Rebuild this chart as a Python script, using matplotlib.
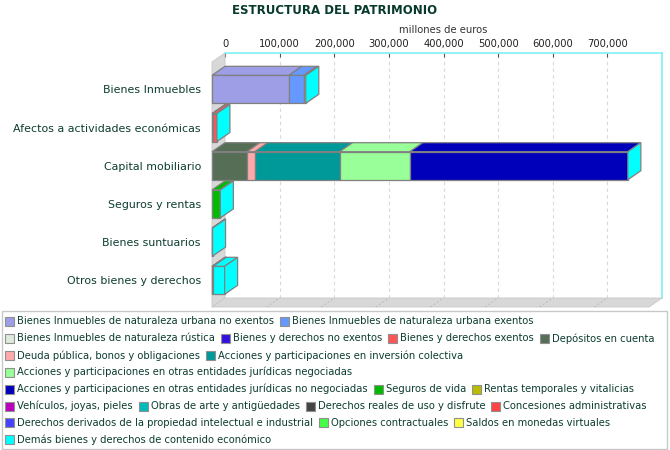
import matplotlib
matplotlib.use("Agg")
import matplotlib.pyplot as plt
from matplotlib.patches import Polygon, Rectangle
from matplotlib.ticker import FuncFormatter

# ---- data (millones de euros) ----
categories = ["Bienes Inmuebles", "Afectos a actividades económicas",
              "Capital mobiliario", "Seguros y rentas",
              "Bienes suntuarios", "Otros bienes y derechos"]

series_names = [
    "Bienes Inmuebles de naturaleza urbana no exentos",
    "Bienes Inmuebles de naturaleza urbana exentos",
    "Bienes Inmuebles de naturaleza rústica",
    "Bienes y derechos no exentos",
    "Bienes y derechos exentos",
    "Depósitos en cuenta",
    "Deuda pública, bonos y obligaciones",
    "Acciones y participaciones en inversión colectiva",
    "Acciones y participaciones en otras entidades jurídicas negociadas",
    "Acciones y participaciones en otras entidades jurídicas no negociadas",
    "Seguros de vida",
    "Rentas temporales y vitalicias",
    "Vehículos, joyas, pieles",
    "Obras de arte y antigüedades",
    "Derechos reales de uso y disfrute",
    "Concesiones administrativas",
    "Derechos derivados de la propiedad intelectual e industrial",
    "Opciones contractuales",
    "Saldos en monedas virtuales",
    "Demás bienes y derechos de contenido económico",
]

series_colors = ["#9e9ee6", "#6699ff", "#dcebdc", "#3311dd", "#ff5555",
                 "#566e56", "#ffaaaa", "#009999", "#99ff99", "#0000bb",
                 "#00bb00", "#bbbb00", "#bb00bb", "#00bbbb", "#444444",
                 "#ff4444", "#4444ff", "#44ff44", "#ffff44", "#00ffff"]

# value of each series in each category (one row per category)
values = [
    [140800, 27400, 3500, 0, 0, 0, 0, 0, 0, 0, 0, 0, 0, 0, 0, 0, 0, 0, 0, 0],
    [0, 0, 0, 1500, 7500, 0, 0, 0, 0, 0, 0, 0, 0, 0, 0, 0, 0, 0, 0, 0],
    [0, 0, 0, 0, 0, 64000, 14600, 155000, 128700, 399000, 0, 0, 0, 0, 0, 0, 0, 0, 0, 0],
    [0, 0, 0, 0, 0, 0, 0, 0, 0, 0, 14500, 800, 0, 0, 0, 0, 0, 0, 0, 0],
    [0, 0, 0, 0, 0, 0, 0, 0, 0, 0, 0, 0, 400, 600, 0, 0, 0, 0, 0, 0],
    [0, 0, 0, 0, 0, 0, 0, 0, 0, 0, 0, 0, 0, 0, 900, 500, 200, 300, 200, 21000],
]

x_max = 800000
x_ticks = [0, 100000, 200000, 300000, 400000, 500000, 600000, 700000]

# legend rows as in the original (indices into series_names)
legend_rows = [[0, 1], [2, 3, 4, 5], [6, 7], [8], [9, 10, 11],
               [12, 13, 14, 15], [16, 17, 18], [19]]

TXT = "#0d3d30"
EDGE = "#808080"
W, H = 670, 450
DX, DY = 13, 9  # 3D depth offset in pixels

fig = plt.figure(figsize=(W / 100, H / 100), dpi=100)


def px_box(x0, y0, x1, y1):
    return [x0 / W, 1 - y1 / H, (x1 - x0) / W, (y1 - y0) / H]


front = (212, 62, 649, 307)
ax_back = fig.add_axes(px_box(front[0] + DX, front[1] - DY, front[2] + DX, front[3] - DY))
ax = fig.add_axes(px_box(*front))

# category band: 38.2 px per category, first centre 27.3 px under the front top
band = 38.2
y_top = -27.3 / band
y_bot = y_top + (front[3] - front[1]) / band
for a in (ax, ax_back):
    a.set_xlim(0, x_max)
    a.set_ylim(y_bot, y_top)

ddx = DX * x_max / (front[2] - front[0])
ddy = DY / band

# back plane: grid, top axis
ax_back.set_facecolor("white")
for s in ("left", "bottom"):
    ax_back.spines[s].set_visible(False)
for s in ("top", "right"):
    ax_back.spines[s].set_color("#80f0f0")
    ax_back.spines[s].set_linewidth(1.2)
ax_back.xaxis.tick_top()
ax_back.xaxis.set_label_position("top")
ax_back.set_xticks(x_ticks)
ax_back.xaxis.set_major_formatter(FuncFormatter(lambda v, p: f"{v:,.0f}"))
ax_back.tick_params(axis="x", direction="in", length=3, color="#555555",
                    labelsize=7.2, labelcolor="#222222", pad=3)
ax_back.set_yticks([])
ax_back.set_xlabel("millones de euros", fontsize=7.2, color="#333333", labelpad=4)
for t in x_ticks[1:]:
    ax_back.axvline(t, color="#d8d8d8", lw=0.8, ls=(0, (3, 3)), zorder=0)

# front plane: labels only
ax.patch.set_alpha(0)
for s in ax.spines.values():
    s.set_visible(False)
ax.set_xticks([])
ax.set_yticks(range(len(categories)))
ax.set_yticklabels(categories, fontsize=7.9, color=TXT)
ax.tick_params(axis="y", length=0, pad=8)

# left wall and floor
wall = "#d8d8d8"
ax.add_patch(Polygon([(0, y_top), (ddx, y_top - ddy), (ddx, y_bot - ddy), (0, y_bot)],
                     closed=True, fc=wall, ec="#c8c8c8", lw=0.6, clip_on=False, zorder=1))
ax.add_patch(Polygon([(0, y_bot), (x_max, y_bot), (x_max + ddx, y_bot - ddy), (ddx, y_bot - ddy)],
                     closed=True, fc=wall, ec="#c8c8c8", lw=0.6, clip_on=False, zorder=1))
for t in x_ticks[1:]:
    ax.plot([t, t + ddx], [y_bot, y_bot - ddy], color="#bbbbbb", lw=0.7,
            ls=(0, (2, 2)), clip_on=False, zorder=1.5)

# stacked 3D bars
h = 28 / band
for i, row in enumerate(values):
    left = 0
    top = i - h / 2
    for s, v in enumerate(row):
        if v <= 0:
            continue
        ax.barh(i, v, height=h, left=left, color=series_colors[s], edgecolor=EDGE,
                linewidth=0.9, clip_on=False, zorder=3)
        ax.add_patch(Polygon([(left, top), (left + v, top), (left + v + ddx, top - ddy),
                              (left + ddx, top - ddy)], closed=True, fc=series_colors[s],
                             ec=EDGE, lw=0.9, clip_on=False, zorder=3))
        left += v
    ax.add_patch(Polygon([(left, top), (left + ddx, top - ddy), (left + ddx, top + h - ddy),
                          (left, top + h)], closed=True, fc=series_colors[-1], ec=EDGE,
                         lw=0.9, clip_on=False, zorder=3))

# title
fig.text(335 / W, 1 - 10 / H, "ESTRUCTURA DEL PATRIMONIO", ha="center", va="center",
         fontsize=8.5, fontweight="bold", color="#073a2c")

# legend (flow layout like the original)
fig.patches.append(Rectangle((2 / W, 1 - 449 / H), 665 / W, 138 / H, transform=fig.transFigure,
                             fc="white", ec="#c8c8c8", lw=1))
renderer = fig.canvas.get_renderer()
row_y0, row_step = 321.5, 16.9
for r, items in enumerate(legend_rows):
    y = row_y0 + r * row_step
    x = 5
    for k in items:
        fig.patches.append(Rectangle((x / W, 1 - (y + 4.5) / H), 9 / W, 9 / H,
                                     transform=fig.transFigure, fc=series_colors[k],
                                     ec="#909090", lw=0.8))
        t = fig.text((x + 12) / W, 1 - y / H, series_names[k], ha="left", va="center",
                     fontsize=7.2, color=TXT)
        bb = t.get_window_extent(renderer)
        x = bb.x1 + 6

fig.savefig("out.png", dpi=100)
